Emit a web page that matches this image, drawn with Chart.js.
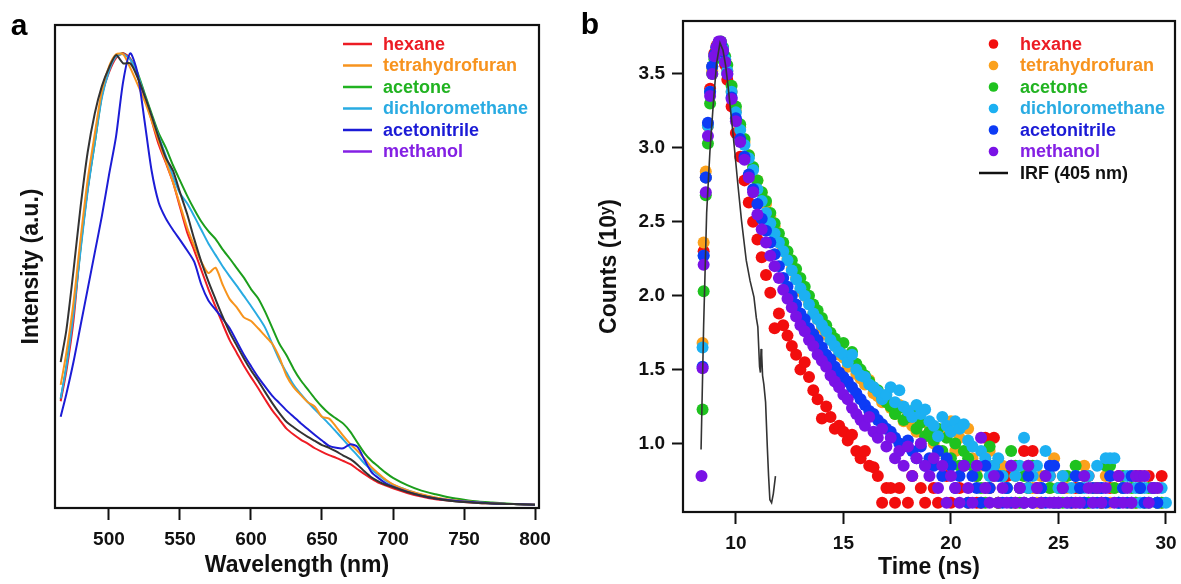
<!DOCTYPE html>
<html><head><meta charset="utf-8">
<script src="https://cdn.jsdelivr.net/npm/chart.js@4.4.1/dist/chart.umd.min.js"></script>
<style>
html,body{margin:0;padding:0;background:#fff;}
#wrap{position:relative;width:1181px;height:584px;overflow:hidden;background:#fff;}
canvas{position:absolute;top:0;}
#ca{left:0;width:575px;height:584px;}
#cb{left:575px;width:606px;height:584px;}
</style></head><body>
<div id="wrap"><canvas id="ca" width="575" height="584"></canvas><canvas id="cb" width="606" height="584"></canvas></div>
<script>
const FONT = '"Liberation Sans", Arial, Helvetica, sans-serif';
Chart.defaults.font.family = FONT;
Chart.defaults.color = '#111';

// ---------- shared ----------
const solvents = ['hexane', 'tetrahydrofuran', 'acetone', 'dichloromethane', 'acetonitrile', 'methanol'];
const lineColors = ['#ee1c24', '#f7941d', '#1c9e1c', '#29abe2', '#1c1cd6', '#333333'];
const legendColors = ['#ec1c24', '#f7931e', '#21b321', '#29abe2', '#1b1bd6', '#8420e4'];
const markerColors = ['#f20d0d', '#fba11c', '#1fc21f', '#1cb0f2', '#0d3bf5', '#7a12e6'];

// ---------- panel a: emission spectra ----------
const wlTicks = [500, 550, 600, 650, 700, 750, 800];
const wavelengths = [466,470,475,480,485,490,495,500,505,510,515,520,525,530,535,540,545,550,555,560,565,570,575,580,585,590,595,600,605,610,615,620,625,630,635,640,645,650,655,660,665,670,675,680,685,690,695,700,710,720,730,740,750,760,770,780,790,800];
const hexaneSpec = [0.234,0.300,0.410,0.575,0.700,0.810,0.905,0.955,0.987,0.997,
 0.985,0.948,0.902,0.850,0.797,0.757,0.715,0.660,0.605,0.565,
 0.522,0.480,0.442,0.404,0.368,0.340,0.312,0.287,0.263,0.238,
 0.214,0.194,0.174,0.161,0.150,0.141,0.131,0.123,0.116,0.110,
 0.103,0.096,0.085,0.074,0.064,0.055,0.049,0.043,0.033,0.025,
 0.019,0.016,0.013,0.011,0.010,0.009,0.008,0.007];
const thfSpec = [0.270,0.340,0.450,0.590,0.720,0.820,0.915,0.968,0.995,0.995,
 0.965,0.930,0.893,0.850,0.805,0.760,0.715,0.665,0.615,0.575,
 0.540,0.515,0.527,0.490,0.458,0.440,0.418,0.410,0.394,0.377,
 0.360,0.330,0.290,0.265,0.248,0.232,0.222,0.200,0.196,0.178,
 0.158,0.140,0.125,0.108,0.089,0.075,0.062,0.052,0.039,0.030,
 0.023,0.018,0.015,0.012,0.010,0.009,0.008,0.007];
const acetoneSpec = [0.238,0.310,0.430,0.570,0.700,0.800,0.905,0.960,0.990,0.997,
 0.985,0.955,0.910,0.865,0.822,0.790,0.752,0.718,0.685,0.655,
 0.628,0.607,0.590,0.567,0.547,0.526,0.505,0.480,0.460,0.430,
 0.395,0.360,0.335,0.305,0.280,0.260,0.240,0.222,0.207,0.196,
 0.185,0.167,0.143,0.120,0.103,0.090,0.077,0.066,0.050,0.038,
 0.030,0.023,0.018,0.014,0.012,0.010,0.008,0.007];
const dcmSpec = [0.240,0.310,0.425,0.565,0.695,0.800,0.900,0.958,0.990,0.995,
 0.983,0.952,0.905,0.860,0.815,0.772,0.728,0.690,0.668,0.640,
 0.610,0.580,0.555,0.530,0.508,0.487,0.465,0.443,0.420,0.395,
 0.360,0.325,0.297,0.270,0.250,0.232,0.216,0.200,0.184,0.167,
 0.150,0.132,0.115,0.097,0.084,0.072,0.060,0.051,0.039,0.029,
 0.022,0.017,0.014,0.012,0.010,0.009,0.008,0.007];
const acetonitrileSpec = [0.200,0.250,0.320,0.400,0.480,0.560,0.640,0.730,0.815,0.935,
 0.997,0.955,0.850,0.740,0.670,0.635,0.610,0.588,0.565,0.540,
 0.490,0.455,0.435,0.415,0.394,0.365,0.336,0.311,0.287,0.266,
 0.246,0.230,0.214,0.200,0.186,0.173,0.160,0.148,0.136,0.132,
 0.131,0.140,0.134,0.105,0.078,0.065,0.054,0.047,0.036,0.027,
 0.021,0.017,0.014,0.012,0.010,0.009,0.008,0.007];
const methanolSpec = [0.320,0.390,0.520,0.660,0.780,0.865,0.925,0.965,0.993,0.975,
 0.975,0.945,0.905,0.860,0.812,0.768,0.740,0.692,0.645,0.590,
 0.540,0.497,0.458,0.420,0.385,0.356,0.328,0.302,0.279,0.254,
 0.230,0.208,0.189,0.177,0.166,0.156,0.147,0.138,0.132,0.124,
 0.115,0.107,0.095,0.080,0.067,0.058,0.051,0.046,0.035,0.027,
 0.021,0.016,0.013,0.011,0.010,0.009,0.008,0.007];

// ---------- panel b: decays (log10 counts) ----------
const timeTicks = [10, 15, 20, 25, 30];
const countTicks = [1.0, 1.5, 2.0, 2.5, 3.0, 3.5];
const times = [8.40,8.45,8.50,8.60,8.70,8.80,8.90,9.00,9.10,9.20,
 9.30,9.40,9.50,9.60,9.80,10.0,10.2,10.4,10.6,10.8,
 11.0,11.2,11.4,11.6,11.8,12.0,12.2,12.4,12.6,12.8,
 13.0,13.2,13.4,13.6,13.8,14.0,14.2,14.4,14.6,14.8,
 15.0,15.2,15.4,15.6,15.8,16.0,16.2,16.4,16.6,16.8,
 17.0,17.2,17.4,17.6,17.8,18.0,18.2,18.4,18.6,18.8,
 19.0,19.2,19.4,19.6,19.8,20.0,20.2,20.4,20.6,20.8,
 21.0,21.2,21.4,21.6,21.8,22.0,22.2,22.4,22.6,22.8,
 23.0,23.2,23.4,23.6,23.8,24.0,24.2,24.4,24.6,24.8,
 25.0,25.2,25.4,25.6,25.8,26.0,26.2,26.4,26.6,26.8,
 27.0,27.2,27.4,27.6,27.8,28.0,28.2,28.4,28.6,28.8,
 29.0,29.2,29.4,29.6,29.8,30.0];
const hexaneDecay = [null,null,2.30,2.80,3.15,3.40,3.55,3.64,3.69,3.71,
 3.70,3.64,3.56,3.46,3.28,3.10,2.94,2.78,2.63,2.50,
 2.38,2.26,2.14,2.02,1.78,1.88,1.80,1.73,1.66,1.60,
 1.50,1.55,1.45,1.36,1.30,1.17,1.25,1.18,1.10,1.12,
 1.08,1.02,1.06,0.95,0.90,0.95,0.85,0.84,0.78,0.60,
 0.70,0.70,0.60,0.70,null,0.60,0.78,null,0.70,0.60,
 null,0.70,0.60,null,0.78,0.60,null,0.70,null,0.60,
 null,0.60,0.60,1.04,0.70,1.04,0.60,null,0.78,null,
 0.60,null,0.95,0.70,0.95,0.70,0.60,null,0.78,0.60,
 null,0.70,null,0.60,0.70,null,0.60,0.78,null,0.70,
 0.60,null,0.70,null,0.78,0.70,null,0.60,0.78,0.78,
 null,0.78,0.70,0.60,0.78,null];
const thfDecay = [null,1.68,2.36,2.84,3.15,3.38,3.52,3.62,3.68,3.71,
 3.71,3.67,3.60,3.52,3.38,3.25,3.14,3.04,2.95,2.86,
 2.78,2.70,2.62,2.54,2.47,2.36,2.32,2.25,2.18,2.12,
 2.03,2.00,1.95,1.88,1.84,1.78,1.74,1.70,1.66,1.60,
 1.58,1.52,1.56,1.47,1.44,1.40,1.43,1.34,1.32,1.28,
 1.30,1.24,1.20,1.26,1.15,1.20,1.12,1.08,1.15,1.05,
 1.12,1.00,0.95,1.08,0.90,1.15,0.95,1.04,0.85,1.10,
 0.90,0.78,0.85,0.70,0.95,0.78,0.60,0.85,0.70,0.60,
 0.78,0.70,0.60,0.85,0.70,0.60,0.78,null,0.70,0.90,
 0.60,0.78,0.70,null,0.60,0.70,0.85,0.60,0.70,0.70,
 0.60,0.78,0.60,0.70,null,0.70,0.60,0.78,0.60,0.70,
 0.78,0.60,null,0.70,0.60,null];
const acetoneDecay = [null,1.23,2.03,2.68,3.03,3.30,3.50,3.60,3.67,3.71,
 3.72,3.68,3.62,3.56,3.42,3.28,3.16,3.06,2.95,2.87,
 2.78,2.70,2.64,2.56,2.49,2.42,2.36,2.30,2.24,2.18,
 2.12,2.06,2.00,1.94,1.90,1.85,1.80,1.75,1.71,1.66,
 1.68,1.58,1.62,1.54,1.50,1.46,1.42,1.38,1.36,1.31,
 1.28,1.25,1.20,1.24,1.16,1.18,1.22,1.10,1.14,1.05,
 1.08,1.02,1.10,0.95,1.04,0.90,1.00,0.85,0.95,0.90,
 0.85,0.78,0.70,0.60,0.98,0.85,0.60,0.78,0.70,0.95,
 0.85,0.60,0.78,0.70,0.85,null,0.60,0.78,0.70,0.60,
 0.70,0.60,0.78,null,0.85,0.70,0.78,0.60,null,0.70,
 0.60,0.85,0.85,0.70,0.60,0.78,null,0.70,0.60,0.70,
 0.60,0.70,null,0.60,0.60,null];
const dcmDecay = [null,1.65,2.27,2.80,3.15,3.38,3.55,3.62,3.68,3.71,
 3.71,3.67,3.60,3.52,3.38,3.24,3.12,3.02,2.93,2.85,
 2.72,2.64,2.56,2.49,2.42,2.36,2.30,2.24,2.17,2.11,
 2.05,2.00,1.94,1.88,1.84,1.80,1.76,1.70,1.66,1.62,
 1.60,1.55,1.60,1.50,1.46,1.45,1.40,1.38,1.35,1.30,
 1.33,1.38,1.28,1.36,1.25,1.22,1.18,1.26,1.20,1.23,
 1.15,1.12,1.05,1.18,1.12,1.08,1.15,1.10,1.13,1.02,
 0.98,0.85,0.95,0.90,0.78,0.85,0.90,0.78,0.70,0.85,
 0.78,0.85,1.04,0.70,0.78,0.85,0.70,0.95,0.78,0.60,
 0.70,0.78,0.60,0.70,0.78,0.60,0.70,0.78,0.60,0.85,
 0.70,0.90,0.90,0.90,0.60,0.70,0.78,0.60,0.70,0.60,
 0.70,0.60,0.70,0.60,0.70,0.60];
const acetonitrileDecay = [null,1.52,2.27,2.80,3.17,3.38,3.55,3.63,3.68,3.71,
 3.70,3.65,3.58,3.50,3.34,3.20,3.06,2.94,2.82,2.72,
 2.62,2.52,2.44,2.36,2.28,2.20,2.12,2.06,2.00,1.94,
 1.88,1.84,1.78,1.74,1.70,1.65,1.60,1.57,1.52,1.48,
 1.45,1.42,1.38,1.34,1.30,1.26,1.22,1.20,1.16,1.13,
 1.10,1.08,1.04,1.00,0.98,1.02,0.95,0.90,0.98,0.85,
 0.90,0.85,0.95,0.78,0.90,0.85,0.70,0.78,0.85,0.60,
 0.78,0.70,0.60,0.85,0.70,null,0.78,0.60,0.70,0.60,
 null,0.70,0.60,0.78,0.60,null,0.70,0.60,0.85,0.85,
 0.60,0.70,null,0.60,0.78,0.70,0.60,null,0.70,0.60,
 0.70,0.60,0.78,null,0.60,0.70,0.60,0.78,null,0.70,
 0.60,null,0.70,0.60,null,null];
const methanolDecay = [0.78,1.51,2.21,2.70,3.08,3.35,3.50,3.62,3.68,3.72,
 3.72,3.66,3.58,3.50,3.33,3.18,3.04,2.92,2.80,2.70,
 2.55,2.45,2.36,2.27,2.20,2.12,2.04,1.98,1.92,1.86,
 1.80,1.76,1.70,1.66,1.60,1.56,1.52,1.46,1.42,1.38,
 1.33,1.30,1.24,1.20,1.16,1.12,1.18,1.08,1.04,1.10,
 0.98,1.04,0.90,0.95,0.85,0.98,0.78,0.90,1.00,0.85,
 0.78,0.90,0.70,0.85,0.60,0.78,0.70,0.60,0.85,0.70,
 0.60,0.85,1.04,0.70,0.60,0.78,0.60,0.70,0.60,0.85,
 0.60,0.70,0.60,0.85,0.60,0.70,0.60,0.78,0.60,0.60,
 0.60,0.70,0.60,null,0.60,0.60,0.78,0.70,0.60,0.70,
 0.60,0.70,null,0.60,0.78,0.60,0.70,0.60,0.78,0.78,
 0.78,0.60,0.70,0.70,null,null];
const irfTime = [8.38,8.50,8.64,8.79,8.95,9.10,9.26,9.40,9.52,9.64,9.80,9.95,10.10,10.26,10.48,10.66,10.84,10.95,11.02,11.10,11.14,11.17,11.20,11.24,11.30,11.38,11.46,11.52,11.58,11.66,11.74,11.84];
const irfCounts = [0.96,1.80,2.56,2.97,3.30,3.57,3.71,3.66,3.56,3.41,3.19,2.97,2.74,2.51,2.24,2.10,1.99,1.85,1.79,1.52,1.48,1.64,1.60,1.46,1.40,1.28,0.98,0.78,0.62,0.60,0.66,0.78];
const irfLabel = 'IRF (405 nm)';

// ---------- plugins ----------
const framePlugin = {
  id: 'frame',
  afterDatasetsDraw(chart) {
    const {ctx, chartArea: a} = chart;
    ctx.save();
    ctx.strokeStyle = '#111';
    ctx.lineWidth = 2.2;
    ctx.strokeRect(a.left, a.top, a.right - a.left, a.bottom - a.top);
    ctx.restore();
  }
};
const panelLegend = {
  id: 'panelLegend',
  afterDraw(chart, args, o) {
    const ctx = chart.ctx;
    ctx.save();
    ctx.font = 'bold 18px ' + FONT;
    ctx.textBaseline = 'middle';
    ctx.textAlign = 'left';
    o.items.forEach((it, i) => {
      const y = o.y0 + i * o.dy;
      if (it.kind === 'line') {
        ctx.strokeStyle = it.color; ctx.lineWidth = 2.5;
        ctx.beginPath(); ctx.moveTo(o.sx0, y); ctx.lineTo(o.sx1, y); ctx.stroke();
      } else {
        ctx.fillStyle = it.color;
        ctx.beginPath(); ctx.arc((o.sx0 + o.sx1) / 2, y, 4.8, 0, Math.PI * 2); ctx.fill();
      }
      ctx.fillStyle = it.textColor;
      ctx.fillText(it.label, o.tx, y + 1);
    });
    ctx.font = 'bold 30px ' + FONT;
    ctx.fillStyle = '#000';
    ctx.textAlign = 'center';
    ctx.textBaseline = 'alphabetic';
    ctx.fillText(o.letter, o.lx, o.ly);
    ctx.restore();
  }
};

function xy(xs, ys) {
  const out = [];
  xs.forEach((x, i) => { if (ys[i] !== null) out.push({x: x, y: ys[i]}); });
  return out;
}
const tickFont = {size: 19, weight: 'bold'};
const titleFont = {size: 23, weight: 'bold'};

// ---------- chart a ----------
const specSeries = [hexaneSpec, thfSpec, acetoneSpec, dcmSpec, acetonitrileSpec, methanolSpec];
const specOrder = [5, 3, 6, 4, 2, 1];
new Chart(document.getElementById('ca'), {
  type: 'line',
  data: {
    datasets: specSeries.map((s, i) => ({
      label: solvents[i], data: xy(wavelengths, s),
      borderColor: lineColors[i], borderWidth: 2, pointRadius: 0, tension: 0.25,
      fill: false, order: specOrder[i]
    }))
  },
  options: {
    responsive: false, animation: false, devicePixelRatio: 1, events: [],
    layout: {padding: {left: 0, right: 36, top: 25, bottom: 0}},
    scales: {
      x: {
        type: 'linear', min: 462, max: 802.8,
        afterBuildTicks: s => { s.ticks = wlTicks.map(v => ({value: v})); },
        afterFit: s => { s.height = 76; s.paddingLeft = 0; s.paddingRight = 0; },
        grid: {display: true, drawOnChartArea: false, drawTicks: true, tickLength: 12, tickWidth: 2, tickColor: '#111'},
        border: {display: false},
        ticks: {font: tickFont, color: '#111', padding: 8, maxRotation: 0, autoSkip: false},
        title: {display: true, text: 'Wavelength (nm)', font: titleFont, color: '#111', padding: {top: 0, bottom: 5}}
      },
      y: {
        type: 'linear', min: 0, max: 1.059,
        afterFit: s => { s.width = 55; s.paddingTop = 0; s.paddingBottom = 0; },
        ticks: {display: false}, grid: {display: false}, border: {display: false},
        title: {display: true, text: 'Intensity (a.u.)', font: titleFont, color: '#111', padding: {top: 18, bottom: 0}}
      }
    },
    plugins: {
      legend: {display: false}, tooltip: {enabled: false},
      panelLegend: {
        items: solvents.map((s, i) => ({label: s, color: legendColors[i], textColor: legendColors[i], kind: 'line'})),
        y0: 44, dy: 21.5, sx0: 343, sx1: 372, tx: 383, letter: 'a', lx: 19, ly: 35
      }
    }
  },
  plugins: [framePlugin, panelLegend]
});

// ---------- chart b ----------
const decaySeries = [hexaneDecay, thfDecay, acetoneDecay, dcmDecay, acetonitrileDecay, methanolDecay];
const decayOrder = [6, 5, 4, 3, 2, 1];
const dsB = decaySeries.map((s, i) => ({
  type: 'scatter', label: solvents[i], data: xy(times, s),
  backgroundColor: markerColors[i], borderColor: markerColors[i], borderWidth: 0,
  pointRadius: 6, pointHoverRadius: 6, order: decayOrder[i]
}));
dsB.push({
  type: 'line', label: irfLabel, data: xy(irfTime, irfCounts),
  borderColor: '#333', borderWidth: 1.6, pointRadius: 0, tension: 0, fill: false, order: 0
});
const legendB = solvents.map((s, i) => ({label: s, color: markerColors[i], textColor: legendColors[i], kind: 'dot'}));
legendB.push({label: irfLabel, color: '#111', textColor: '#111', kind: 'line'});
new Chart(document.getElementById('cb'), {
  type: 'scatter',
  data: {datasets: dsB},
  options: {
    responsive: false, animation: false, devicePixelRatio: 1, events: [],
    layout: {padding: {left: 0, right: 5, top: 21, bottom: 0}},
    scales: {
      x: {
        type: 'linear', min: 7.54, max: 30.42,
        afterBuildTicks: s => { s.ticks = timeTicks.map(v => ({value: v})); },
        afterFit: s => { s.height = 72; s.paddingLeft = 0; s.paddingRight = 0; },
        grid: {display: true, drawOnChartArea: false, drawTicks: true, tickLength: 12, tickWidth: 2, tickColor: '#111'},
        border: {display: false},
        ticks: {font: tickFont, color: '#111', padding: 8, maxRotation: 0, autoSkip: false},
        title: {display: true, text: 'Time (ns)', font: titleFont, color: '#111', padding: {top: 0, bottom: 3}}
      },
      y: {
        type: 'linear', min: 0.537, max: 3.858,
        afterBuildTicks: s => { s.ticks = countTicks.map(v => ({value: v})); },
        afterFit: s => { s.width = 108; s.paddingTop = 0; s.paddingBottom = 0; },
        grid: {display: true, drawOnChartArea: false, drawTicks: true, tickLength: 11, tickWidth: 2, tickColor: '#111'},
        border: {display: false},
        ticks: {font: tickFont, color: '#111', padding: 7, callback: v => Number(v).toFixed(1)},
        title: {display: true, text: 'Counts (10ʸ)', font: titleFont, color: '#111', padding: {top: 21, bottom: 0}}
      }
    },
    plugins: {
      legend: {display: false}, tooltip: {enabled: false},
      panelLegend: {
        items: legendB, y0: 44, dy: 21.5, sx0: 404, sx1: 433, tx: 445, letter: 'b', lx: 15, ly: 34
      }
    }
  },
  plugins: [framePlugin, panelLegend]
});
</script></body></html>
